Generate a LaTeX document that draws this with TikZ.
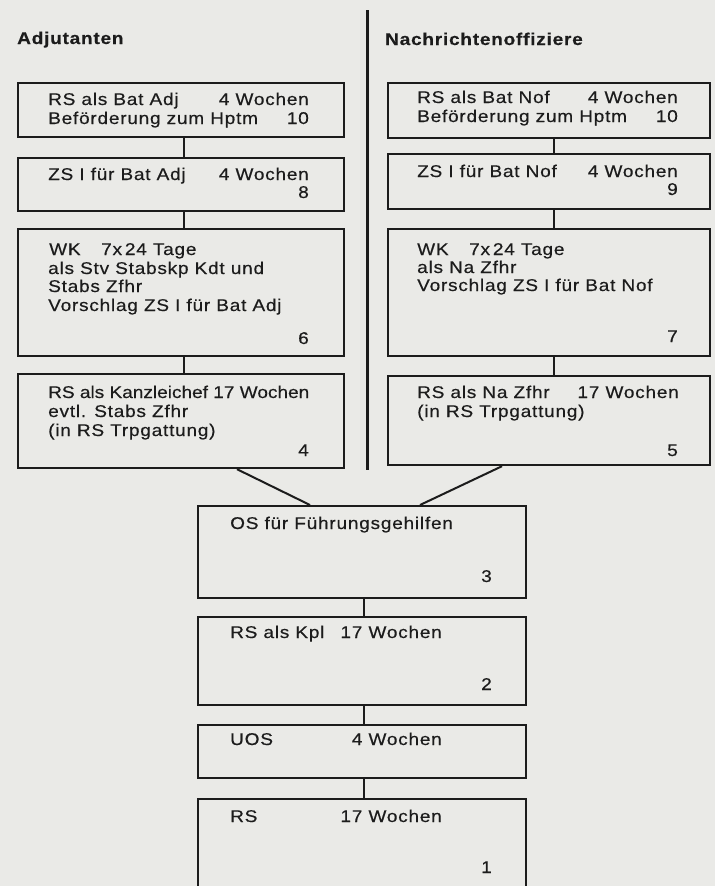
\documentclass[tikz,border=0pt]{standalone}
\usepackage{fontspec}
\setmainfont{Liberation Sans}[FakeStretch=1.12, LetterSpace=4.5, FakeBold=0.4]
\usetikzlibrary{calc}

\definecolor{papier}{RGB}{234,234,231}
\definecolor{druck}{RGB}{28,28,28}
\newcommand{\schrift}{\fontsize{17}{18.3}\selectfont}

\begin{document}
\begin{tikzpicture}[x=1pt, y=-1pt,
  stufe/.style={draw=druck, line width=2.2pt, anchor=north west, inner sep=0pt},
  links/.style={anchor=base west, inner sep=0pt, text=druck, font=\schrift},
  rechts/.style={anchor=base east, inner sep=0pt, text=druck, font=\schrift},
  titel/.style={anchor=base west, inner sep=0pt, text=druck, font=\schrift\bfseries},
  linie/.style={draw=druck, line width=2pt}]
\useasboundingbox (0,0) rectangle (715,886);
\fill[papier] (0,0) rectangle (715,886);
\clip (0,0) rectangle (715,886);

% Trennlinie
\coordinate (toben) at (367,10);
\coordinate (tunten) at (367,470);
\draw[druck, line width=3pt] (toben) -- (tunten);

% Titel
\node[titel] (tadj) at (17,44) {Adjutanten};
\node[titel] (tnof) at (385,45) {Nachrichtenoffiziere};

% Adjutanten
\node[stufe, minimum width=326pt, minimum height=54pt] (adj10) at (17,82) {};
\node[stufe, minimum width=326pt, minimum height=53pt] (adj8) at (17,157) {};
\node[stufe, minimum width=326pt, minimum height=127pt] (adj6) at (17,228) {};
\node[stufe, minimum width=326pt, minimum height=94pt] (adj4) at (17,373) {};

\node[links] (a10a) at (48,105) {RS als Bat Adj};
\node[links] (a10b) at (48,124) {Beförderung zum Hptm};
\node[rechts] (a10c) at (309,105) {4 Wochen};
\node[rechts] (a10d) at (309,124) {10};

\node[links] (a8a) at (48,180) {ZS I für Bat Adj};
\node[rechts] (a8b) at (309,180) {4 Wochen};
\node[rechts] (a8c) at (309,198) {8};

\node[links] (a6a) at (49,255) {WK};
\node[links] (a6b) at (101,255) {7x\,24 Tage};
\node[links] (a6c) at (48,274) {als Stv Stabskp Kdt und};
\node[links] (a6d) at (48,292) {Stabs Zfhr};
\node[links] (a6e) at (48,311) {Vorschlag ZS I für Bat Adj};
\node[rechts] (a6f) at (309,344) {6};

\node[links, font=\schrift\addfontfeature{LetterSpace=0}] (a4a) at (48,398) {RS als Kanzleichef 17 Wochen};
\node[links] (a4c) at (48,417) {evtl. Stabs Zfhr};
\node[links] (a4d) at (48,436) {(in RS Trpgattung)};
\node[rechts] (a4e) at (309,456) {4};

\draw[linie] ([xshift=3pt]adj10.south) -- ([xshift=3pt]adj8.north);
\draw[linie] ([xshift=3pt]adj8.south) -- ([xshift=3pt]adj6.north);
\draw[linie] ([xshift=3pt]adj6.south) -- ([xshift=3pt]adj4.north);

% Nachrichtenoffiziere
\node[stufe, minimum width=322pt, minimum height=55pt] (nof10) at (387,82) {};
\node[stufe, minimum width=322pt, minimum height=55pt] (nof9) at (387,153) {};
\node[stufe, minimum width=322pt, minimum height=127pt] (nof7) at (387,228) {};
\node[stufe, minimum width=322pt, minimum height=89pt] (nof5) at (387,375) {};

\node[links] (n10a) at (417,103) {RS als Bat Nof};
\node[links] (n10b) at (417,122) {Beförderung zum Hptm};
\node[rechts] (n10c) at (678,103) {4 Wochen};
\node[rechts] (n10d) at (678,122) {10};

\node[links] (n9a) at (417,177) {ZS I für Bat Nof};
\node[rechts] (n9b) at (678,177) {4 Wochen};
\node[rechts] (n9c) at (678,195) {9};

\node[links] (n7a) at (417,255) {WK};
\node[links] (n7b) at (469,255) {7x\,24 Tage};
\node[links] (n7c) at (417,273) {als Na Zfhr};
\node[links] (n7d) at (417,291) {Vorschlag ZS I für Bat Nof};
\node[rechts] (n7e) at (678,342) {7};

\node[links] (n5a) at (417,398) {RS als Na Zfhr};
\node[rechts] (n5b) at (679,398) {17 Wochen};
\node[links] (n5c) at (417,417) {(in RS Trpgattung)};
\node[rechts] (n5d) at (678,456) {5};

\draw[linie] ([xshift=5pt]nof10.south) -- ([xshift=5pt]nof9.north);
\draw[linie] ([xshift=5pt]nof9.south) -- ([xshift=5pt]nof7.north);
\draw[linie] ([xshift=5pt]nof7.south) -- ([xshift=5pt]nof5.north);

% gemeinsame Ausbildung
\node[stufe, minimum width=328pt, minimum height=92pt] (os) at (197,505) {};
\node[stufe, minimum width=328pt, minimum height=88pt] (kpl) at (197,616) {};
\node[stufe, minimum width=328pt, minimum height=53pt] (uos) at (197,724) {};
\node[stufe, minimum width=328pt, minimum height=110pt] (rs) at (197,798) {};

\node[links] (os1) at (230,529) {OS für Führungsgehilfen};
\node[rechts] (os2) at (492,582) {3};
\node[links] (kpl1) at (230,638) {RS als Kpl};
\node[rechts] (kpl2) at (442,638) {17 Wochen};
\node[rechts] (kpl3) at (492,690) {2};
\node[links] (uos1) at (230,745) {UOS};
\node[rechts] (uos2) at (442,745) {4 Wochen};
\node[links] (rs1) at (230,822) {RS};
\node[rechts] (rs2) at (442,822) {17 Wochen};
\node[rechts] (rs3) at (492,873) {1};

\draw[linie] ($(adj4.south west)+(220,0)$) -- ($(os.north west)+(113,0)$);
\draw[linie] ($(nof5.south west)+(115,0)$) -- ($(os.north west)+(223,0)$);
\draw[linie] ([xshift=2pt]os.south) -- ([xshift=2pt]kpl.north);
\draw[linie] ([xshift=2pt]kpl.south) -- ([xshift=2pt]uos.north);
\draw[linie] ([xshift=2pt]uos.south) -- ([xshift=2pt]rs.north);
\end{tikzpicture}
\end{document}
